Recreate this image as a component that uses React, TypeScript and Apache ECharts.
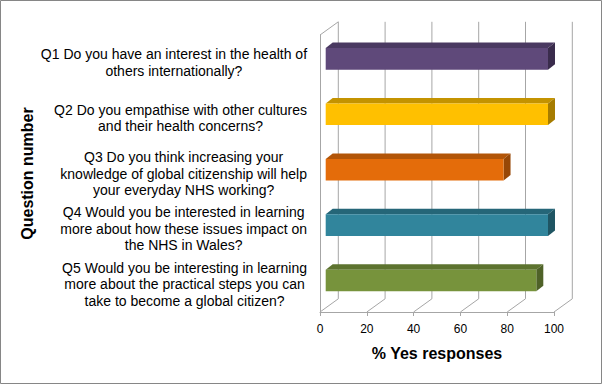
import React, { useEffect, useRef } from "react";
import * as echarts from "echarts";

const categories = [
  "Q1 Do you have an interest in the health of\nothers internationally?",
  "Q2 Do you empathise with other cultures\nand their health concerns?",
  "Q3 Do you think increasing your\nknowledge of global citizenship will help\nyour everyday NHS working?",
  "Q4 Would you be interested in learning\nmore about how these issues impact on\nthe NHS in Wales?",
  "Q5 Would you be interesting in learning\nmore about the practical steps you can\ntake to become a global citizen?",
];
const yesPercent = [95, 95, 76, 95, 90];
const xTicks = [0, 20, 40, 60, 80, 100];
const xAxisTitle = "% Yes responses";
const yAxisTitle = "Question number";

const frontColors = ["#5F497A", "#FFC000", "#E46C0A", "#31859C", "#77933C"];
const topColors = ["#4A3961", "#C49300", "#B25508", "#256678", "#5D732F"];
const sideColors = ["#3A2C4C", "#A67C00", "#974706", "#1F5563", "#4F6228"];

const FONT = "'Liberation Sans', Arial, sans-serif";
const WALL = "#a6a6a6";
// perspective depth of the back wall and of the bars
const DX = 18.3, DY = -13.2;
const BX = 5.7, BY = -3.8;
const BDX = 7, BDY = -5.5;

export default function App() {
  const ref = useRef<HTMLDivElement>(null);
  useEffect(() => {
    document.body.style.margin = "0";
    const chart = echarts.init(ref.current!, null, { renderer: "svg" });
    const option: any = {
      animation: false,
      backgroundColor: "#fff",
      graphic: [
        {
          type: "rect",
          shape: { x: 0.5, y: 0.5, width: 601, height: 383 },
          style: { fill: "none", stroke: "#868686", lineWidth: 1 },
          z: 100,
        },
      ],
      grid: { left: 320, right: 48, top: 35, bottom: 72 },
      xAxis: {
        type: "value",
        min: 0,
        max: 100,
        interval: 20,
        splitLine: { show: false },
        axisLine: { show: true, lineStyle: { color: WALL, width: 1 } },
        axisTick: { show: true, length: 4, lineStyle: { color: WALL } },
        axisLabel: { fontSize: 12, color: "#000", fontFamily: FONT, margin: 11 },
        name: xAxisTitle,
        nameLocation: "middle",
        nameGap: 33,
        nameTextStyle: { fontSize: 16, fontWeight: "bold", color: "#000", fontFamily: FONT },
      },
      yAxis: {
        type: "category",
        inverse: true,
        data: categories,
        axisLine: { show: true, lineStyle: { color: WALL, width: 1 } },
        axisTick: { show: false },
        splitLine: { show: false },
        axisLabel: {
          margin: 13,
          fontSize: 14,
          color: "#000",
          fontFamily: FONT,
          lineHeight: 16.5,
          formatter: (v: string) =>
            v.split("\n").map((l) => `{c|${l}}`).join("\n"),
          rich: {
            c: { align: "center", fontSize: 14, lineHeight: 16.5, color: "#000", fontFamily: FONT },
          },
        },
        name: yAxisTitle,
        nameLocation: "middle",
        nameGap: 285,
        nameRotate: 90,
        nameTextStyle: { fontSize: 16, fontWeight: "bold", color: "#000", fontFamily: FONT },
      },
      series: [
        {
          type: "custom",
          clip: false,
          z: 1,
          data: xTicks.map((t) => [t, 0]),
          encode: { x: 0, y: 1 },
          renderItem: (params: any, api: any) => {
            const cs = params.coordSys;
            const v = api.value(0);
            const x = api.coord([v, 0])[0];
            const bottom = cs.y + cs.height;
            const top = cs.y;
            const style = { stroke: WALL, lineWidth: 1, fill: "none" };
            const children: any[] = [
              { type: "line", shape: { x1: x, y1: bottom, x2: x + DX, y2: bottom + DY }, style },
              { type: "line", shape: { x1: x + DX, y1: bottom + DY, x2: x + DX, y2: top + DY }, style },
            ];
            if (v === xTicks[0]) {
              children.push({
                type: "line",
                shape: { x1: x, y1: top, x2: x + DX, y2: top + DY },
                style,
              });
            }
            return { type: "group", children };
          },
        },
        {
          type: "custom",
          clip: false,
          z: 2,
          data: yesPercent.map((v, i) => [v, i]),
          encode: { x: 0, y: 1 },
          renderItem: (params: any, api: any) => {
            const i = api.value(1);
            const start = api.coord([0, i]);
            const end = api.coord([api.value(0), i]);
            const h = api.size([0, 1])[1] * 0.39;
            const x0 = start[0] + BX;
            const y0 = start[1] + BY - h / 2;
            const w = end[0] - start[0];
            return {
              type: "group",
              children: [
                {
                  type: "polygon",
                  shape: {
                    points: [
                      [x0, y0],
                      [x0 + w, y0],
                      [x0 + w + BDX, y0 + BDY],
                      [x0 + BDX, y0 + BDY],
                    ],
                  },
                  style: { fill: topColors[i] },
                },
                {
                  type: "polygon",
                  shape: {
                    points: [
                      [x0 + w, y0],
                      [x0 + w + BDX, y0 + BDY],
                      [x0 + w + BDX, y0 + h + BDY],
                      [x0 + w, y0 + h],
                    ],
                  },
                  style: { fill: sideColors[i] },
                },
                {
                  type: "rect",
                  shape: { x: x0, y: y0, width: w, height: h },
                  style: { fill: frontColors[i] },
                },
              ],
            };
          },
        },
      ],
    };
    chart.setOption(option);
    return () => chart.dispose();
  }, []);
  return <div ref={ref} style={{ width: 602, height: 384 }} />;
}
